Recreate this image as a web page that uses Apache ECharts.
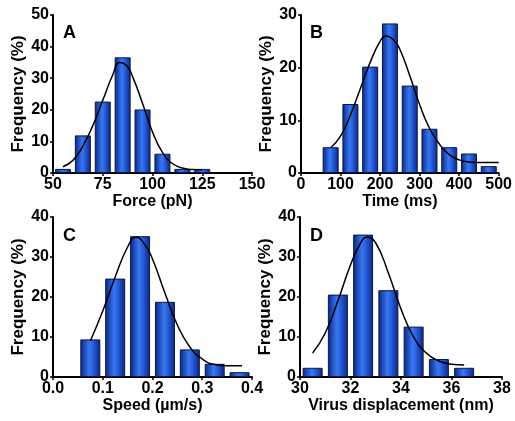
<!DOCTYPE html>
<html>
<head>
<meta charset="utf-8">
<script src="https://cdn.jsdelivr.net/npm/echarts@6/dist/echarts.min.js"></script>
<style>
html,body{margin:0;padding:0;background:#fff;}
#main{width:515px;height:421px;}
</style>
</head>
<body>
<div id="main"></div>
<script>
// A - force
var forceBins = [55, 65, 75, 85, 95, 105, 115, 125];
var forceFreq = [1.3, 11.9, 22.6, 36.6, 20.1, 6.1, 1.3, 1.3];
var forceFit = [[55,2],[60,4],[65,8.5],[70,15],[75,23],[80,31],[83.5,35],[87,34],[90,30.5],[95,22],[100,13],[105,6.5],[110,3],[115,1.6],[120,1.1],[125,1]];

// B - time
var timeBins = [75, 125, 175, 225, 275, 325, 375, 425, 475];
var timeFreq = [4.9, 13.1, 20.2, 28.4, 16.6, 8.4, 4.9, 3.7, 1.3];
var timeFit = [[75,4.8],[100,7],[125,11],[150,16],[175,21],[200,25],[215,26],[235,25.2],[250,23.5],[275,18.5],[300,13],[325,8.5],[350,5.5],[375,3.5],[400,2.5],[425,2.1],[450,2],[500,2]];

// C - speed
var speedBins = [0.075, 0.125, 0.175, 0.225, 0.275, 0.325, 0.375];
var speedFreq = [9.4, 24.6, 35.2, 18.8, 6.9, 3.3, 1.2];
var speedFit = [[0.075,9],[0.1,16.5],[0.125,25],[0.15,32.5],[0.167,35],[0.185,33],[0.2,29.5],[0.225,21],[0.25,13],[0.275,7.5],[0.3,4.5],[0.325,3.1],[0.35,2.8],[0.38,2.8]];

// D - virus displacement
var dispBins = [30.5, 31.5, 32.5, 33.5, 34.5, 35.5, 36.5];
var dispFreq = [2.3, 20.6, 35.6, 21.7, 12.6, 4.5, 2.3];
var dispFit = [[30.5,6],[31,11],[31.5,19],[32,28],[32.4,33.5],[32.65,35],[33,33.5],[33.5,26],[34,17],[34.5,10],[35,6],[35.5,4],[36,3.2],[36.5,3]];

var chart = echarts.init(document.getElementById('main'));
var font = 'Liberation Sans, Arial, sans-serif';

var barColor = {
    type: 'linear', x: 0, y: 0, x2: 1, y2: 0,
    colorStops: [
        {offset: 0, color: '#0a2680'},
        {offset: 0.45, color: '#3877f2'},
        {offset: 0.6, color: '#2b63e2'},
        {offset: 1, color: '#0a2680'}
    ]
};

function xAx(idx, min, max, interval, name, fmt){
    return {
        type: 'value', gridIndex: idx, min: min, max: max, interval: interval,
        name: name, nameLocation: 'middle', nameGap: 19,
        nameTextStyle: {fontFamily: font, fontWeight: 'bold', fontSize: 16, color: '#000'},
        axisLine: {onZero: false, lineStyle: {color: '#000', width: 2}},
        axisTick: {show: true, length: 3, lineStyle: {color: '#000', width: 1.5}},
        axisLabel: {fontFamily: font, fontWeight: 'bold', fontSize: 16, color: '#000', margin: 4, formatter: fmt},
        splitLine: {show: false}
    };
}
function yAx(idx, max){
    return {
        type: 'value', gridIndex: idx, min: 0, max: max, interval: 10,
        name: 'Frequency (%)', nameLocation: 'middle', nameGap: 24,
        nameTextStyle: {fontFamily: font, fontWeight: 'bold', fontSize: 17, color: '#000'},
        axisLine: {show: true, lineStyle: {color: '#000', width: 2}},
        axisTick: {show: true, length: 3, lineStyle: {color: '#000', width: 1.5}},
        axisLabel: {fontFamily: font, fontWeight: 'bold', fontSize: 16, color: '#000', margin: 4},
        splitLine: {show: false}
    };
}
function bars(idx, bins, freq, w){
    var d = [];
    for (var i = 0; i < bins.length; i++) d.push([bins[i], freq[i]]);
    return {
        type: 'bar', xAxisIndex: idx, yAxisIndex: idx, data: d, barWidth: w,
        itemStyle: {color: barColor, borderColor: '#081850', borderWidth: 1}
    };
}
function fit(idx, pts){
    return {
        type: 'line', xAxisIndex: idx, yAxisIndex: idx, data: pts, smooth: true,
        showSymbol: false, z: 5,
        lineStyle: {color: '#000', width: 1.5}
    };
}
function letter(t, l, top){
    return {text: t, left: l, top: top, padding: 0,
        textStyle: {fontFamily: font, fontWeight: 'bold', fontSize: 18, color: '#000'}};
}

chart.setOption({
    animation: false,
    backgroundColor: '#fff',
    title: [letter('A', 63, 24), letter('B', 310, 24), letter('C', 63, 227), letter('D', 310, 227)],
    grid: [
        {left: 53, top: 15, width: 199, height: 158},
        {left: 301, top: 15, width: 201, height: 158},
        {left: 53, top: 217, width: 199, height: 160},
        {left: 300, top: 217, width: 202, height: 160}
    ],
    xAxis: [
        xAx(0, 50, 150, 25, 'Force (pN)'),
        xAx(1, 0, 500, 100, 'Time (ms)'),
        xAx(2, 0, 0.4, 0.1, 'Speed (\u00b5m/s)', function(v){ return v.toFixed(1); }),
        xAx(3, 30, 38, 2, 'Virus displacement (nm)')
    ],
    yAxis: [yAx(0, 50), yAx(1, 30), yAx(2, 40), yAx(3, 40)],
    series: [
        bars(0, forceBins, forceFreq, 16), fit(0, forceFit),
        bars(1, timeBins, timeFreq, 16), fit(1, timeFit),
        bars(2, speedBins, speedFreq, 20), fit(2, speedFit),
        bars(3, dispBins, dispFreq, 20), fit(3, dispFit)
    ]
});
</script>
</body>
</html>
